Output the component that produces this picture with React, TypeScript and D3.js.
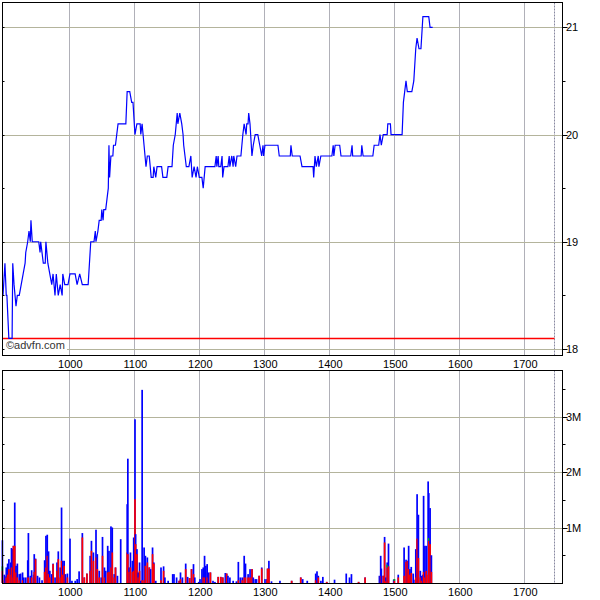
import React from 'react';
import * as d3 from 'd3';

// ---- Data ----
const priceDays = [898, 901, 903, 904, 907, 912, 913, 915, 918, 920, 923, 926, 929, 932, 933, 936, 938, 940, 941, 943, 953, 955, 956, 960, 963, 964, 967, 970, 973, 975, 978, 980, 983, 986, 989, 990, 993, 998, 1001, 1009, 1012, 1016, 1020, 1029, 1033, 1038, 1040, 1041, 1044, 1046, 1049, 1050, 1052, 1053, 1056, 1058, 1060, 1061, 1062, 1064, 1067, 1068, 1071, 1073, 1075, 1087, 1089, 1093, 1096, 1098, 1101, 1104, 1109, 1110, 1112, 1115, 1118, 1120, 1123, 1126, 1129, 1130, 1133, 1135, 1142, 1144, 1150, 1152, 1158, 1160, 1163, 1166, 1167, 1170, 1173, 1175, 1176, 1180, 1184, 1187, 1189, 1192, 1195, 1197, 1200, 1204, 1206, 1209, 1224, 1226, 1227, 1229, 1230, 1233, 1235, 1236, 1238, 1244, 1246, 1247, 1250, 1252, 1253, 1256, 1258, 1264, 1267, 1269, 1272, 1273, 1275, 1276, 1278, 1281, 1283, 1286, 1290, 1293, 1296, 1298, 1299, 1301, 1321, 1323, 1340, 1341, 1343, 1355, 1358, 1375, 1376, 1378, 1380, 1383, 1384, 1387, 1404, 1406, 1407, 1409, 1416, 1418, 1433, 1435, 1436, 1449, 1450, 1452, 1467, 1469, 1476, 1478, 1480, 1483, 1489, 1490, 1494, 1495, 1512, 1514, 1516, 1518, 1520, 1527, 1530, 1533, 1535, 1538, 1541, 1543, 1544, 1553, 1555, 1559];
const priceValues = [18.5, 18.8, 18.5, 18.5, 18.1, 18.1, 18.8, 18.6, 18.4, 18.5, 18.5, 18.6, 18.7, 18.8, 18.9, 19.0, 19.1, 19.0, 19.2, 19.0, 19.0, 18.9, 19.0, 18.8, 18.8, 19.0, 18.8, 18.7, 18.6, 18.7, 18.5, 18.7, 18.5, 18.6, 18.5, 18.7, 18.6, 18.6, 18.7, 18.7, 18.6, 18.7, 18.6, 18.6, 19.0, 19.0, 19.1, 19.0, 19.1, 19.2, 19.2, 19.3, 19.2, 19.3, 19.3, 19.4, 19.5, 19.9, 19.6, 19.8, 19.8, 19.9, 19.9, 20.0, 20.1, 20.1, 20.4, 20.4, 20.3, 20.3, 20.0, 20.1, 20.1, 20.0, 20.1, 19.9, 19.7, 19.8, 19.8, 19.6, 19.6, 19.7, 19.6, 19.7, 19.7, 19.6, 19.6, 19.7, 19.7, 19.9, 20.0, 20.2, 20.1, 20.2, 20.1, 20.0, 19.9, 19.7, 19.7, 19.8, 19.6, 19.7, 19.6, 19.7, 19.6, 19.6, 19.5, 19.7, 19.7, 19.8, 19.7, 19.8, 19.7, 19.7, 19.8, 19.6, 19.7, 19.7, 19.8, 19.7, 19.8, 19.7, 19.8, 19.7, 19.8, 19.8, 20.0, 20.1, 20.0, 20.1, 20.1, 20.2, 20.1, 19.8, 19.9, 20.0, 20.0, 19.9, 19.8, 19.9, 19.8, 19.9, 19.9, 19.8, 19.8, 19.9, 19.8, 19.8, 19.7, 19.7, 19.6, 19.8, 19.7, 19.8, 19.7, 19.8, 19.8, 19.9, 19.8, 19.9, 19.9, 19.8, 19.8, 19.9, 19.8, 19.8, 19.9, 19.8, 19.8, 19.9, 19.9, 20.0, 19.9, 20.0, 20.0, 20.1, 20.1, 20.0, 20.0, 20.3, 20.4, 20.5, 20.4, 20.4, 20.5, 20.8, 20.9, 20.8, 20.8, 21.0, 21.1, 21.1, 21.0, 21.0];

const volDays = [897, 900, 901, 903, 905, 907, 910, 911, 913, 914, 916, 918, 920, 923, 925, 928, 930, 933, 936, 937, 940, 942, 945, 946, 948, 951, 954, 958, 962, 964, 966, 968, 970, 973, 975, 978, 981, 983, 986, 988, 990, 992, 994, 997, 1001, 1004, 1009, 1012, 1015, 1020, 1023, 1027, 1032, 1034, 1037, 1041, 1043, 1046, 1049, 1051, 1054, 1056, 1059, 1061, 1064, 1066, 1069, 1071, 1074, 1079, 1089, 1090, 1092, 1094, 1097, 1099, 1101, 1102, 1104, 1106, 1108, 1110, 1112, 1115, 1117, 1120, 1123, 1125, 1128, 1130, 1133, 1141, 1145, 1147, 1152, 1159, 1161, 1165, 1169, 1171, 1174, 1179, 1182, 1185, 1188, 1191, 1193, 1199, 1201, 1204, 1206, 1208, 1210, 1212, 1214, 1217, 1221, 1224, 1229, 1233, 1236, 1240, 1242, 1244, 1247, 1252, 1257, 1260, 1263, 1266, 1269, 1271, 1275, 1278, 1281, 1283, 1286, 1288, 1292, 1296, 1301, 1304, 1305, 1307, 1311, 1324, 1342, 1356, 1359, 1366, 1379, 1381, 1383, 1387, 1390, 1396, 1408, 1426, 1431, 1434, 1445, 1455, 1477, 1479, 1480, 1483, 1485, 1487, 1489, 1491, 1499, 1500, 1506, 1515, 1518, 1520, 1522, 1524, 1526, 1529, 1532, 1533, 1535, 1537, 1540, 1542, 1544, 1545, 1547, 1549, 1552, 1553, 1555, 1557];
const volTotal = [0.77, 0.15, 0.12, 0.28, 0.35, 0.43, 0.37, 0.63, 0.61, 0.67, 1.45, 0.31, 0.35, 0.16, 0.17, 0.19, 0.1, 0.1, 0.41, 0.9, 0.13, 0.23, 0.15, 0.52, 0.44, 0.13, 0.1, 0.05, 0.41, 0.85, 0.87, 0.57, 0.22, 0.16, 0.35, 0.1, 0.37, 0.57, 0.28, 1.36, 0.4, 0.4, 0.16, 0.17, 0.8, 0.04, 0.04, 0.07, 0.21, 0.9, 0.1, 0.17, 0.49, 0.76, 0.55, 0.96, 0.52, 0.22, 0.1, 0.83, 0.28, 0.22, 0.67, 0.58, 1.02, 1.0, 0.16, 0.28, 0.13, 0.79, 1.42, 2.24, 0.28, 0.55, 0.4, 0.82, 2.95, 0.88, 0.61, 0.19, 0.37, 0.04, 3.48, 0.64, 0.49, 0.46, 0.28, 0.25, 0.64, 0.37, 0.04, 0.28, 0.3, 0.1, 0.04, 0.16, 0.16, 0.1, 0.04, 0.19, 0.1, 0.35, 0.11, 0.09, 0.25, 0.34, 0.1, 0.02, 0.07, 0.25, 0.28, 0.49, 0.31, 0.34, 0.19, 0.19, 0.04, 0.02, 0.11, 0.11, 0.1, 0.18, 0.17, 0.13, 0.1, 0.04, 0.03, 0.38, 0.1, 0.1, 0.49, 0.35, 0.16, 0.25, 0.25, 0.1, 0.07, 0.07, 0.13, 0.28, 0.07, 0.07, 0.26, 0.4, 0.03, 0.04, 0.04, 0.1, 0.07, 0.04, 0.17, 0.21, 0.13, 0.04, 0.11, 0.02, 0.06, 0.17, 0.1, 0.16, 0.02, 0.1, 0.13, 0.49, 0.26, 0.13, 0.83, 0.1, 0.37, 0.71, 0.06, 0.07, 0.15, 0.64, 0.42, 0.4, 0.67, 0.25, 0.29, 0.17, 0.06, 0.61, 1.6, 1.23, 0.22, 0.13, 0.15, 1.57, 0.67, 0.67, 1.83, 1.62, 1.35, 0.5];
const volRed = [0.22, 0.05, 0, 0.1, 0.15, 0.25, 0.15, 0.28, 0.1, 0.67, 0.67, 0.19, 0.1, 0.05, 0, 0.05, 0, 0, 0.1, 0.1, 0, 0.1, 0, 0.2, 0.43, 0, 0, 0, 0.2, 0.28, 0.49, 0.16, 0.1, 0, 0.34, 0, 0.22, 0.43, 0.1, 0.4, 0.15, 0.31, 0, 0.1, 0, 0, 0, 0, 0, 0.82, 0.1, 0.17, 0.22, 0.58, 0.4, 0.46, 0.25, 0.1, 0, 0.49, 0.1, 0, 0.19, 0.2, 0.28, 0.55, 0.1, 0.28, 0, 0, 0.55, 0.52, 0.2, 0.28, 0.2, 0.22, 1.51, 0.7, 0.52, 0.1, 0.22, 0, 0.05, 0.05, 0.31, 0.37, 0.28, 0, 0.52, 0.35, 0, 0.05, 0.22, 0, 0, 0, 0, 0, 0.04, 0.07, 0, 0.25, 0, 0.09, 0.25, 0.16, 0, 0, 0, 0, 0.1, 0.1, 0, 0.1, 0, 0.19, 0, 0, 0.11, 0.11, 0.1, 0, 0.17, 0, 0, 0, 0, 0.05, 0, 0.05, 0.1, 0.1, 0.1, 0.1, 0.25, 0, 0, 0, 0.13, 0.26, 0, 0.05, 0.26, 0.26, 0, 0, 0.04, 0.1, 0, 0, 0.05, 0, 0.1, 0, 0, 0.02, 0, 0, 0, 0, 0.02, 0.1, 0, 0.13, 0, 0.13, 0.73, 0.03, 0.28, 0.3, 0, 0.04, 0.1, 0.13, 0.38, 0.4, 0.25, 0.15, 0.18, 0, 0, 0.1, 0.8, 0.45, 0.1, 0.04, 0, 0.2, 0.1, 0.22, 0.15, 0.76, 0.7, 0.2];
const greenDays = [897, 1489, 1500, 1553];
const greenValues = [0.08, 0.05, 0.03, 0.05];

const xTicks = [1000, 1100, 1200, 1300, 1400, 1500, 1600, 1700];
const markerDay = [1746];
const priceTicks = [18, 19, 20, 21];
const priceMinorTicks = [18, 18.5, 19, 19.5, 20, 20.5, 21];
const volTicks = [1, 2, 3];
const volTickLabels = ['1M', '2M', '3M'];
const volMinorTicks = [0.5, 1, 1.5, 2, 2.5, 3, 3.5];
const refLevel = [18.1];
const watermark = '©advfn.com';

const FONT = "Arial, 'Liberation Sans', sans-serif";

export default function App() {
  const L = 2.5, R = 562.5;
  const pTop = 2.5, pBot = 355.5;
  const vTop = 370.5, vBot = 583.5;

  const x = d3.scaleLinear().domain([1000, 1700]).range([69.3, 524.3]);
  const yP = d3.scaleLinear().domain([18, 21]).range([349, 27.3]);
  const yV = d3.scaleLinear().domain([0, 1]).range([583, 527.5]);
  const snap = (v: number) => Math.round(v) + 0.5;

  const line = d3.line<number>()
    .x((_, i) => x(priceDays[i]))
    .y((d) => yP(d));

  const gridV = '#b0b0b8';
  const gridH = '#b4b49c';
  const allV = [...xTicks, ...markerDay];

  const greenMap = new Map<number, number>();
  greenDays.forEach((d, i) => greenMap.set(d, greenValues[i]));

  return (
    <svg width={600} height={600} style={{ position: 'absolute', left: 0, top: 0, background: '#fff' }}>
      <rect x={0} y={0} width={600} height={600} fill="#fff" />
      {/* ---------- Price panel ---------- */}
      {allV.map((t, i) => (
        <line key={'pv' + t} x1={snap(x(t))} x2={snap(x(t))} y1={pTop} y2={pBot}
          stroke={i === allV.length - 1 ? '#8888a0' : gridV} strokeWidth={1}
          strokeDasharray={i === allV.length - 1 ? '2,1' : undefined} />
      ))}
      {priceTicks.map((t) => (
        <line key={'ph' + t} x1={L} x2={R} y1={snap(yP(t))} y2={snap(yP(t))} stroke={gridH} strokeWidth={1} />
      ))}
      {refLevel.map((r) => (
        <line key={'ref' + r} x1={L} x2={snap(x(markerDay[0]))} y1={snap(yP(r))} y2={snap(yP(r))} stroke="#ff0000" strokeWidth={1.3} />
      ))}
      <path d={line(priceValues) || ''} fill="none" stroke="#0000ff" strokeWidth={1.2} />
      <rect x={4} y={yP(18) - 8} width={63} height={11} fill="#fff" />
      <text x={6} y={yP(18) + 0} fontFamily={FONT} fontSize={11} fill="#333">{watermark}</text>
      <rect x={L} y={pTop} width={R - L} height={pBot - pTop} fill="none" stroke="#000" strokeWidth={1} />
      {priceMinorTicks.map((t) => {
        const major = Number.isInteger(t);
        const yy = snap(yP(t));
        return (
          <g key={'pt' + t}>
            <line x1={R} x2={R + (major ? 5 : 3)} y1={yy} y2={yy} stroke="#000" />
            <line x1={L} x2={L + 2} y1={yy} y2={yy} stroke="#000" />
          </g>
        );
      })}
      {priceTicks.map((t) => (
        <text key={'pl' + t} x={566} y={yP(t) + 4} fontFamily={FONT} fontSize={11} fill="#000">{t}</text>
      ))}
      {xTicks.map((t) => (
        <text key={'xl1' + t} x={x(t) + 1} y={368} textAnchor="middle" fontFamily={FONT} fontSize={11} fill="#000">{t}</text>
      ))}

      {/* ---------- Volume panel ---------- */}
      {allV.map((t, i) => (
        <line key={'vv' + t} x1={snap(x(t))} x2={snap(x(t))} y1={vTop} y2={vBot}
          stroke={i === allV.length - 1 ? '#8888a0' : gridV} strokeWidth={1}
          strokeDasharray={i === allV.length - 1 ? '2,1' : undefined} />
      ))}
      {volTicks.map((t) => (
        <line key={'vh' + t} x1={L} x2={R} y1={snap(yV(t))} y2={snap(yV(t))} stroke={gridH} strokeWidth={1} />
      ))}
      {volDays.map((d, i) => {
        const tot = Math.max(volTotal[i], volRed[i]);
        const red = volRed[i];
        const g = greenMap.get(d) || 0;
        const bx = x(d) - 0.8;
        return (
          <g key={'b' + d}>
            <rect x={bx} y={yV(tot)} width={1.7} height={yV(0) - yV(tot)} fill="#0000ff" />
            {red > 0 && <rect x={bx} y={yV(red)} width={1.7} height={yV(0) - yV(red)} fill="#ff0000" />}
            {g > 0 && <rect x={bx} y={yV(red + g)} width={1.7} height={yV(red) - yV(red + g)} fill="#00c000" />}
          </g>
        );
      })}
      <rect x={L} y={vTop} width={R - L} height={vBot - vTop} fill="none" stroke="#000" strokeWidth={1} />
      {volMinorTicks.map((t) => {
        const major = Number.isInteger(t);
        const yy = snap(yV(t));
        return (
          <g key={'vt' + t}>
            <line x1={R} x2={R + (major ? 5 : 3)} y1={yy} y2={yy} stroke="#000" />
            <line x1={L} x2={L + 2} y1={yy} y2={yy} stroke="#000" />
          </g>
        );
      })}
      {volTicks.map((t, i) => (
        <text key={'vl' + t} x={566} y={yV(t) + 4} fontFamily={FONT} fontSize={11} fill="#000">{volTickLabels[i]}</text>
      ))}
      {xTicks.map((t) => (
        <text key={'xl2' + t} x={x(t) + 1} y={596} textAnchor="middle" fontFamily={FONT} fontSize={11} fill="#000">{t}</text>
      ))}
    </svg>
  );
}
